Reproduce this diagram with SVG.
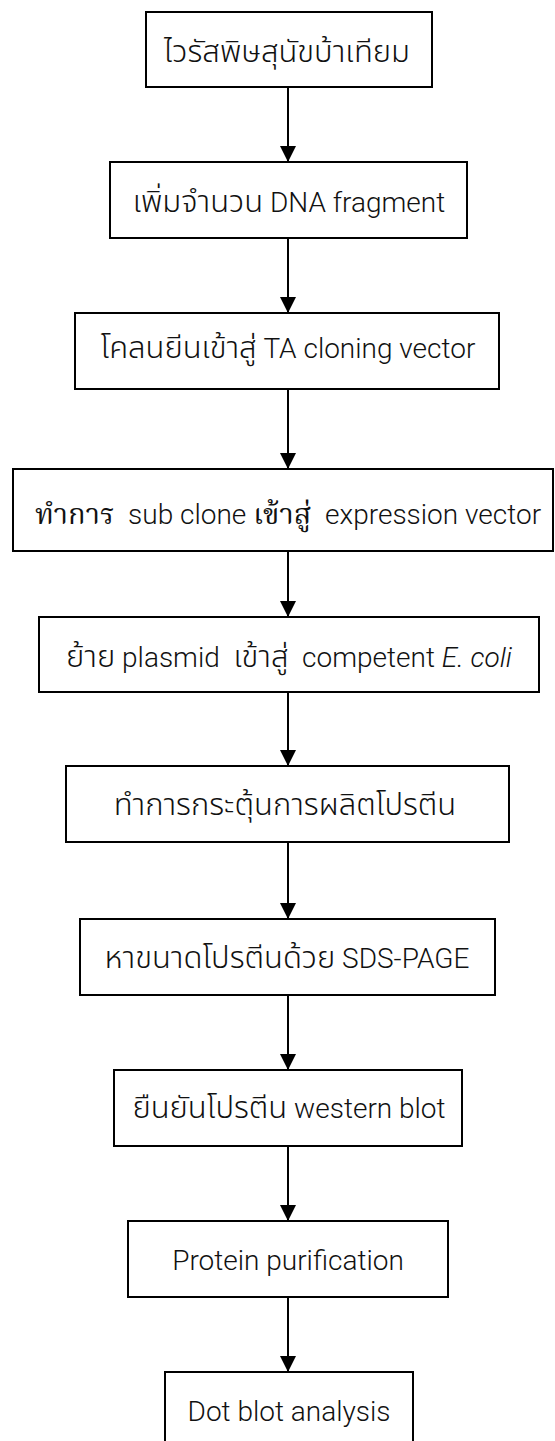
<svg xmlns="http://www.w3.org/2000/svg" width="555" height="1441" viewBox="0 0 555 1441">
<style>
.box{fill:#fff;stroke:#000;stroke-width:2}
.lbl{font-family:Roboto,"Noto Sans","Liberation Sans","Noto Sans Thai",sans-serif;font-size:28px;font-weight:300;fill:#111;text-anchor:middle}
.th{font-family:"Noto Sans Thai","Noto Sans","Liberation Sans",sans-serif;font-size:31px;font-weight:300}
.loop{font-family:"Noto Serif Thai","Noto Sans Thai Looped","Noto Sans Thai","Liberation Serif",serif;font-size:29px;font-weight:400}
.conn{stroke:#000;stroke-width:2;fill:none}
</style>
<defs>
<marker id="ah" markerUnits="userSpaceOnUse" markerWidth="16" markerHeight="16" refX="16" refY="8" orient="auto">
<path d="M0,0 L16,8 L0,16 z" fill="#000"/>
</marker>
</defs>
<rect width="555" height="1441" fill="#fff"/>
<g id="connectors">
<line class="conn" x1="288" y1="87" x2="288" y2="162" marker-end="url(#ah)"/>
<line class="conn" x1="288" y1="238" x2="288" y2="313" marker-end="url(#ah)"/>
<line class="conn" x1="288" y1="389" x2="288" y2="469" marker-end="url(#ah)"/>
<line class="conn" x1="288" y1="551" x2="288" y2="617" marker-end="url(#ah)"/>
<line class="conn" x1="288" y1="692" x2="288" y2="766" marker-end="url(#ah)"/>
<line class="conn" x1="288" y1="842" x2="288" y2="919" marker-end="url(#ah)"/>
<line class="conn" x1="288" y1="995" x2="288" y2="1070" marker-end="url(#ah)"/>
<line class="conn" x1="288" y1="1146" x2="288" y2="1221" marker-end="url(#ah)"/>
<line class="conn" x1="288" y1="1297" x2="288" y2="1372" marker-end="url(#ah)"/>
</g>
<g id="n1"><rect class="box" x="146" y="12" width="286" height="75"/><text class="lbl" x="287" y="62"><tspan class="th">ไวรัสพิษสุนัขบ้าเทียม</tspan></text></g>
<g id="n2"><rect class="box" x="110" y="162" width="357" height="76"/><text class="lbl" x="289" y="212"><tspan class="th">เพิ่มจำนวน</tspan> DNA fragment</text></g>
<g id="n3"><rect class="box" x="75" y="313" width="424" height="76"/><text class="lbl" x="288" y="358"><tspan class="th">โคลนยีนเข้าสู่</tspan> TA cloning vector</text></g>
<g id="n4"><rect class="box" x="13" y="469" width="540" height="82"/><text class="lbl" x="288" y="524" xml:space="preserve"><tspan class="loop">ทำการ</tspan>  sub clone <tspan class="loop">เข้าสู่</tspan>  expression vector</text></g>
<g id="n5"><rect class="box" x="39" y="617" width="500" height="75"/><text class="lbl" x="289" y="667" xml:space="preserve"><tspan class="th">ย้าย</tspan> plasmid  <tspan class="th">เข้าสู่</tspan>  competent <tspan font-style="italic">E. coli</tspan></text></g>
<g id="n6"><rect class="box" x="66" y="766" width="443" height="76"/><text class="lbl" x="285" y="815"><tspan class="th">ทำการกระตุ้นการผลิตโปรตีน</tspan></text></g>
<g id="n7"><rect class="box" x="80" y="919" width="415" height="76"/><text class="lbl" x="287" y="968"><tspan class="th">หาขนาดโปรตีนด้วย</tspan> SDS-PAGE</text></g>
<g id="n8"><rect class="box" x="114" y="1070" width="348" height="76"/><text class="lbl" x="289" y="1118"><tspan class="th">ยืนยันโปรตีน</tspan> western blot</text></g>
<g id="n9"><rect class="box" x="128" y="1221" width="320" height="76"/><text class="lbl" x="288" y="1270">Protein purification</text></g>
<g id="n10"><rect class="box" x="165" y="1372" width="248" height="80"/><text class="lbl" x="289" y="1421">Dot blot analysis</text></g>
</svg>
